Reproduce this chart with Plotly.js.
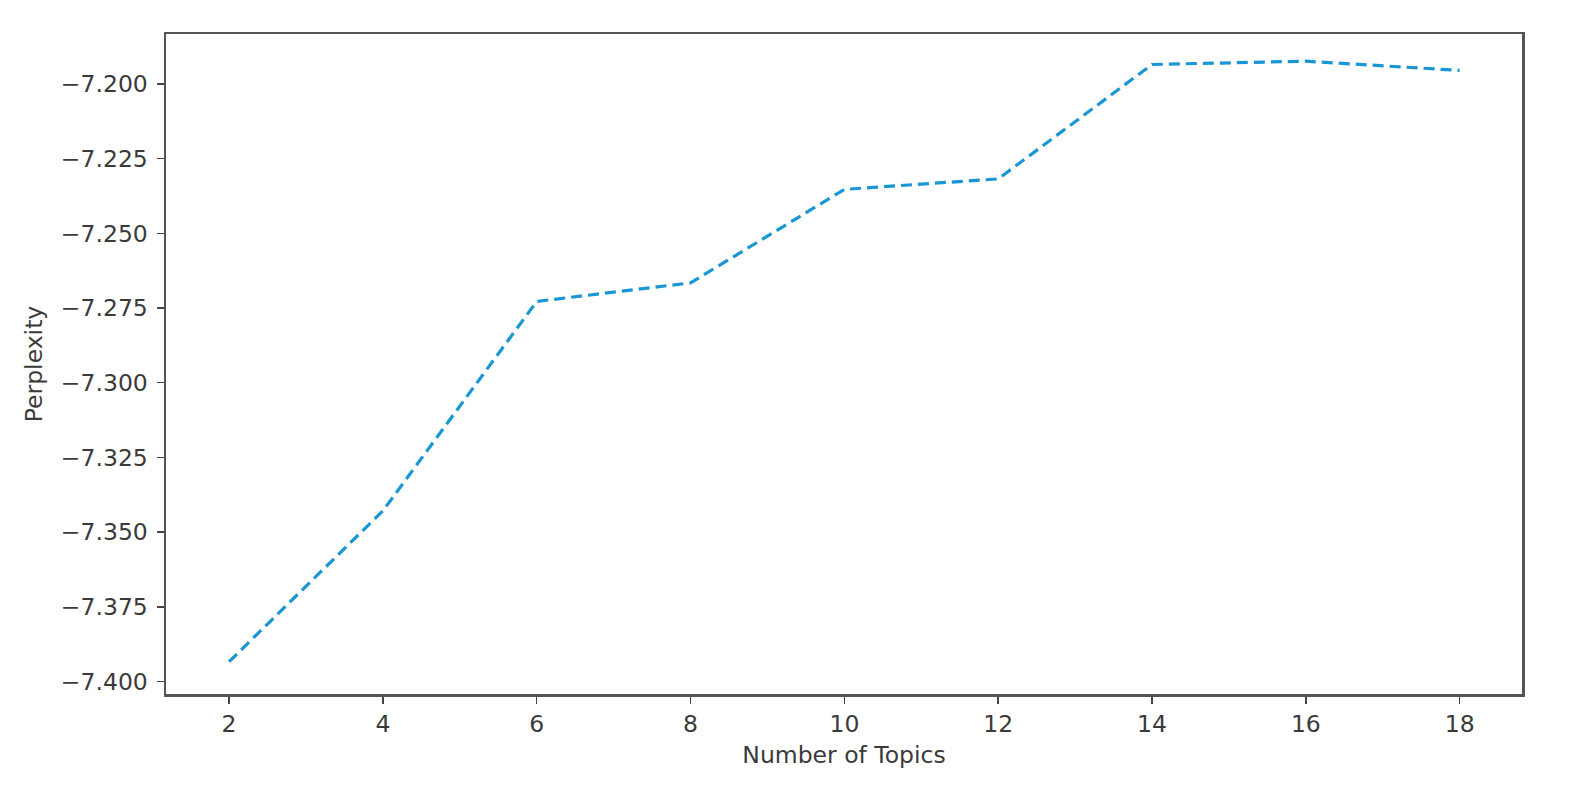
<!DOCTYPE html>
<html>
<head>
<meta charset="utf-8">
<script src="https://cdn.plot.ly/plotly-3.0.1.min.js"></script>
<style>
  html, body { margin: 0; padding: 0; background: #ffffff; }
  #chart { width: 1571px; height: 790px; }
</style>
</head>
<body>
<div id="chart"></div>
<script>
const numTopics = [2, 4, 6, 8, 10, 12, 14, 16, 18];
const perplexity = [-7.3934, -7.3429, -7.2728, -7.2666, -7.2353, -7.2318, -7.1935, -7.1924, -7.1955];
const yTickVals = [-7.400, -7.375, -7.350, -7.325, -7.300, -7.275, -7.250, -7.225, -7.200];
const xTickVals = [2, 4, 6, 8, 10, 12, 14, 16, 18];
const xLabel = 'Number of Topics';
const yLabel = 'Perplexity';

const font = { family: 'DejaVu Sans, sans-serif', size: 23.5, color: '#3a3a3a' };

const trace = {
  x: numTopics,
  y: perplexity,
  type: 'scatter',
  mode: 'lines',
  line: { color: '#1a96d4', width: 3.2, dash: '11px,6px' },
  hoverinfo: 'x+y'
};

const axisCommon = {
  showgrid: false,
  zeroline: false,
  showline: true,
  mirror: true,
  linecolor: '#555555',
  linewidth: 2.5,
  ticks: 'outside',
  ticklen: 7,
  tickwidth: 1.5,
  tickcolor: '#444444',
  tickfont: font
};

const layout = {
  width: 1571,
  height: 790,
  margin: { l: 166, r: 49, t: 34, b: 96 },
  paper_bgcolor: '#ffffff',
  plot_bgcolor: '#ffffff',
  showlegend: false,
  font: font,
  xaxis: Object.assign({}, axisCommon, {
    range: [1.18, 18.81],
    tickmode: 'array',
    tickvals: xTickVals,
    title: { text: xLabel, font: font, standoff: 10 }
  }),
  yaxis: Object.assign({}, axisCommon, {
    range: [-7.4042, -7.1833],
    tickmode: 'array',
    tickvals: yTickVals,
    tickformat: '.3f',
    ticklabelstandoff: 4,
    title: { text: yLabel, font: font, standoff: 12 }
  })
};

Plotly.newPlot('chart', [trace], layout, { displayModeBar: false, staticPlot: true });
</script>
</body>
</html>
